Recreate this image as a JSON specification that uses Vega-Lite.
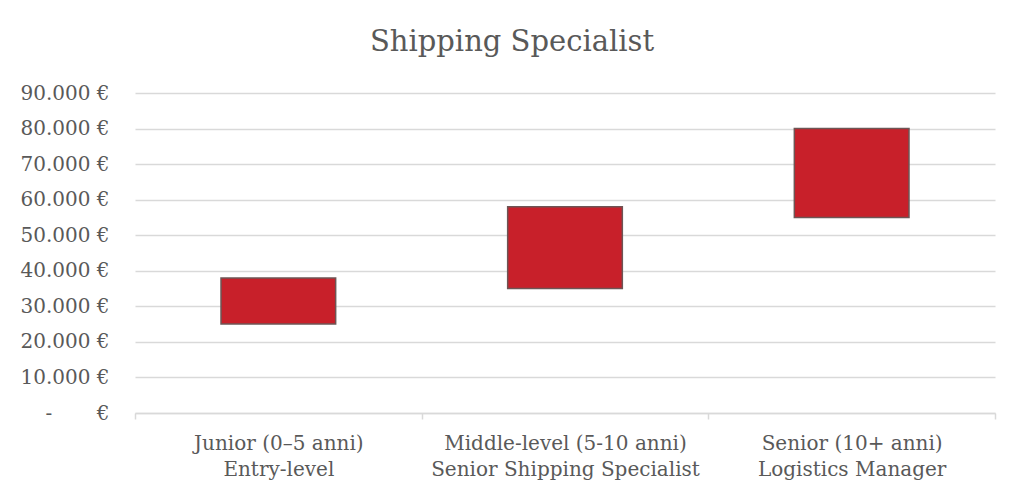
{
  "$schema": "https://vega.github.io/schema/vega-lite/v6.json",
  "width": 860,
  "height": 320,
  "autosize": {"type": "none"},
  "padding": {"left": 135, "top": 93, "right": 29, "bottom": 86},
  "background": "white",
  "title": {
    "text": "Shipping Specialist",
    "font": "DejaVu Serif",
    "fontSize": 29,
    "fontWeight": "normal",
    "color": "#595959",
    "offset": 26,
    "dx": -53
  },
  "data": {
    "values": [
      {"role": "Junior (0–5 anni)\nEntry-level", "min": 25000, "max": 38000},
      {"role": "Middle-level (5-10 anni)\nSenior Shipping Specialist", "min": 35000, "max": 58000},
      {"role": "Senior (10+ anni)\nLogistics Manager", "min": 55000, "max": 80000}
    ]
  },
  "mark": {"type": "bar", "color": "#c8202a", "stroke": "#6e5555", "strokeWidth": 1.5, "width": {"band": 0.4}},
  "encoding": {
    "x": {
      "field": "role",
      "type": "nominal",
      "sort": null,
      "title": null,
      "scale": {"paddingInner": 0, "paddingOuter": 0},
      "axis": {
        "labelAngle": 0,
        "labelExpr": "split(datum.label, '\\n')",
        "labelLimit": 0,
        "labelPadding": 14,
        "labelLineHeight": 26,
        "tickBand": "extent",
        "ticks": true,
        "tickSize": 6,
        "grid": false
      }
    },
    "y": {
      "field": "min",
      "type": "quantitative",
      "title": null,
      "scale": {"domain": [0, 90000]},
      "axis": {
        "values": [0, 10000, 20000, 30000, 40000, 50000, 60000, 70000, 80000, 90000],
        "labelExpr": "datum.value == 0 ? '-\u00a0\u00a0\u00a0\u00a0\u00a0\u00a0\u00a0€' : (datum.value / 1000) + '.000 €'",
        "domain": false,
        "ticks": false,
        "labelPadding": 26,
        "grid": true
      }
    },
    "y2": {"field": "max"}
  },
  "config": {
    "view": {"stroke": null},
    "axis": {
      "labelFont": "DejaVu Serif",
      "labelFontSize": 20,
      "labelColor": "#595959",
      "gridColor": "#d9d9d9",
      "gridWidth": 1.5,
      "domainColor": "#d9d9d9",
      "domainWidth": 1.5,
      "tickColor": "#d9d9d9",
      "tickWidth": 1.5
    }
  }
}
